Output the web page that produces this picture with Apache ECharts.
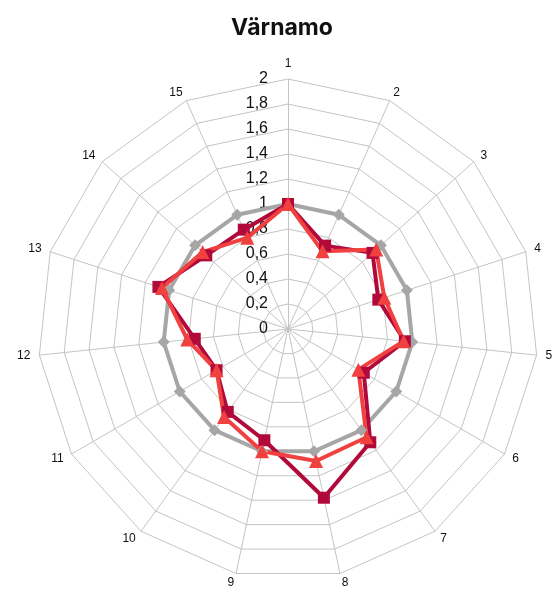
<!DOCTYPE html>
<html>
<head>
<meta charset="utf-8">
<script src="https://cdn.jsdelivr.net/npm/echarts@6/dist/echarts.min.js"></script>
<style>
    html, body { margin: 0; padding: 0; background: #fff; }
    #chart { width: 552px; height: 594px; }
</style>
</head>
<body>
<div id="chart"></div>
<script>
// indikatorer 1..15
const categories = ['1', '2', '3', '4', '5', '6', '7', '8', '9', '10', '11', '12', '13', '14', '15'];
const grayValues = [1, 1, 1, 1, 1, 1, 1, 1, 1, 1, 1, 1, 1, 1, 1];
const darkRedValues = [1.0, 0.73, 0.91, 0.76, 0.94, 0.70, 1.12, 1.38, 0.91, 0.82, 0.66, 0.75, 1.09, 0.88, 0.87];
const redValues = [1.0, 0.68, 0.95, 0.81, 0.93, 0.65, 1.07, 1.08, 1.0, 0.87, 0.66, 0.81, 1.06, 0.92, 0.80];
const maxValue = 2;

// radar ritas moturs, så vänd ordningen (1 överst, sedan medurs)
const order = categories.map((c, i) => (categories.length - i) % categories.length);
const pick = arr => order.map(i => arr[i]);

const chart = echarts.init(document.getElementById('chart'));

const indicator = order.map((idx, i) => {
    const item = { name: categories[idx], max: maxValue, min: 0 };
    // bara första axeln har värdeetiketter
    if (i === 0) {
        item.axisLabel = {
            show: true,
            margin: 20,
            fontSize: 16,
            color: '#111',
            fontFamily: 'Liberation Sans',
            formatter: function (v) {
                return String(Math.round(v * 10) / 10).replace('.', ',');
            }
        };
    }
    return item;
});

const option = {
    backgroundColor: '#fff',
    animation: false,
    title: {
        text: 'Värnamo',
        left: 226,
        top: 12,
        textStyle: {
            fontFamily: 'Inter',
            fontWeight: 'bold',
            fontSize: 23,
            color: '#111'
        }
    },
    radar: {
        center: [288, 329],
        radius: 250,
        startAngle: 90,
        splitNumber: 10,
        shape: 'polygon',
        indicator: indicator,
        axisName: {
            color: '#111',
            fontSize: 12,
            fontFamily: 'Liberation Sans'
        },
        nameGap: 9,
        axisLabel: { show: false },
        axisLine: { lineStyle: { color: '#c4c4c4', width: 1 } },
        splitLine: { lineStyle: { color: '#c4c4c4', width: 1 } },
        splitArea: { show: false }
    },
    series: [{
        type: 'radar',
        silent: true,
        data: [
            {
                value: pick(grayValues),
                symbol: 'diamond',
                symbolSize: 12,
                itemStyle: { color: '#a6a6a6' },
                lineStyle: { color: '#a6a6a6', width: 4 }
            },
            {
                value: pick(darkRedValues),
                symbol: 'rect',
                symbolSize: 12,
                itemStyle: { color: '#b0093a' },
                lineStyle: { color: '#b0093a', width: 4 }
            },
            {
                value: pick(redValues),
                symbol: 'triangle',
                symbolSize: 14,
                itemStyle: { color: '#f0403f' },
                lineStyle: { color: '#f0403f', width: 4 }
            }
        ]
    }]
};

chart.setOption(option);
</script>
</body>
</html>
